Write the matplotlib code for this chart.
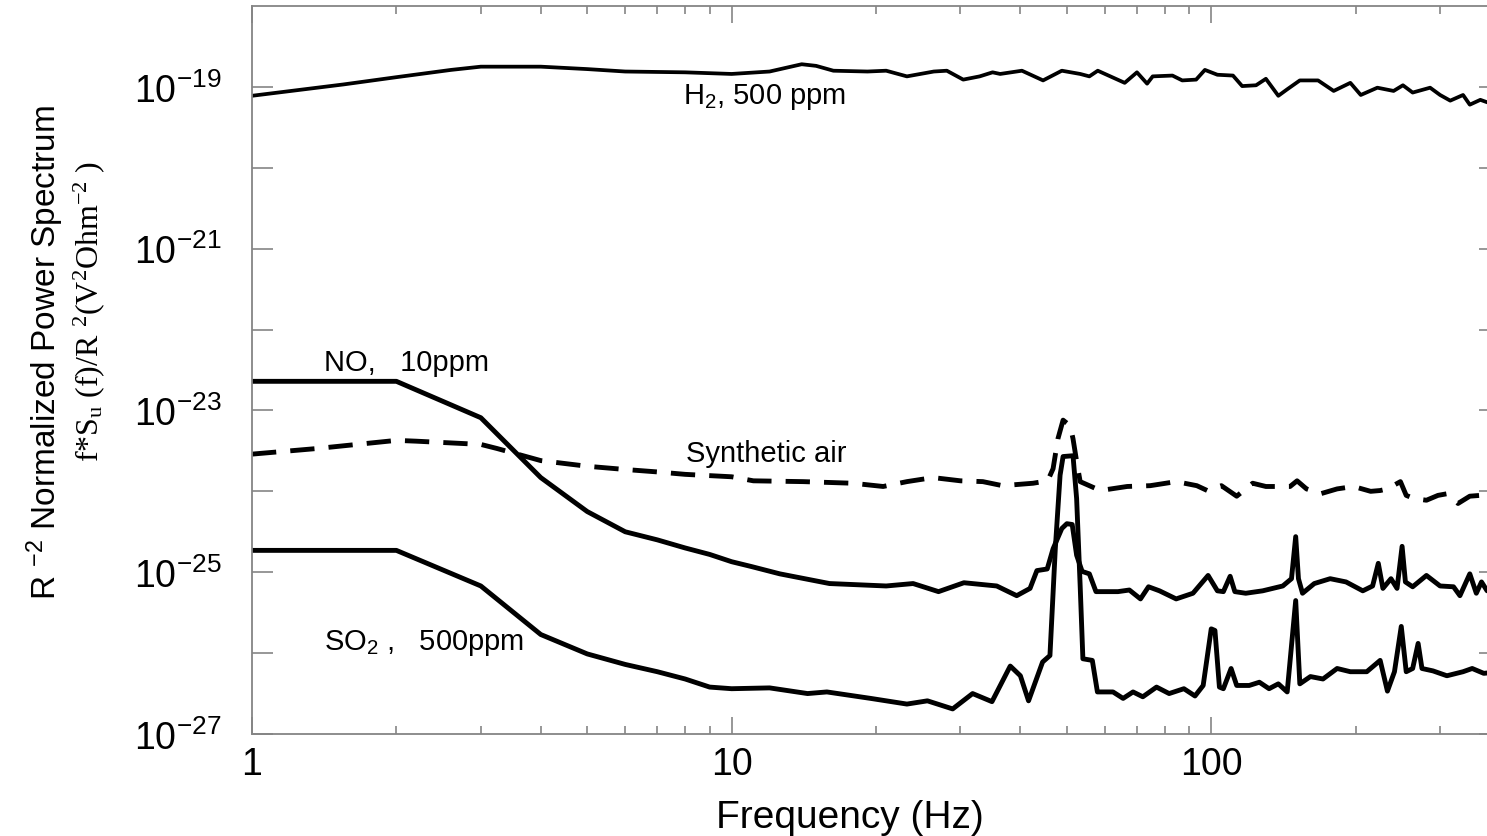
import numpy as np
from matplotlib import pyplot as plt
from matplotlib.ticker import FixedLocator, FuncFormatter, NullLocator

plt.rcParams['font.family'] = ['Liberation Sans', 'DejaVu Sans']
plt.rcParams['mathtext.default'] = 'regular'

# spectra, frequency in Hz, value as log10 of f*Su(f)/R^2
h2_freq = [1, 1.55, 2, 2.6, 3, 4, 5, 6, 8, 10, 12, 14, 15, 16.3, 19.2, 21, 23.2, 26.4, 28.1, 30.4,
           32.9, 35, 36.3, 40.3, 44.6, 48.8, 53.3, 55.7, 58, 66, 70, 73.5, 75.5, 83, 87, 93, 97, 103, 111, 116,
           124, 130, 138, 144, 153, 167, 180, 195, 205, 222, 240, 251, 263, 286, 300, 315, 335, 346, 364, 376, 400]
h2_log = [-19.11, -18.97, -18.88, -18.79, -18.75, -18.75, -18.78, -18.81, -18.82, -18.84,
          -18.81, -18.72, -18.74, -18.80, -18.81, -18.80, -18.87, -18.81, -18.80, -18.91,
          -18.87, -18.82, -18.84, -18.80, -18.92, -18.80, -18.84, -18.87, -18.80, -18.95,
          -18.82, -18.96, -18.87, -18.86, -18.92, -18.91, -18.79, -18.85, -18.86, -18.99,
          -18.98, -18.90, -19.11, -19.03, -18.92, -18.92, -19.05, -18.95, -19.10, -19.01,
          -19.05, -18.98, -19.07, -19.01, -19.10, -19.17, -19.10, -19.22, -19.16, -19.19, -19.20]

no_freq = [1, 2, 3, 4, 5, 6, 7, 8, 9, 10, 11, 12.6, 16, 21, 23.9, 27, 30.5, 35.7, 39.3, 41.9,
           43.3, 45.5, 46.8, 48.8, 50, 51.3, 52.4, 53.8, 55.7, 57.5, 63.9, 67.5, 71.2, 74, 78, 84.5, 91.6, 98.5, 103, 106,
           109.5, 112, 118, 128, 141, 147, 150, 152, 155, 164, 177, 191, 207, 217, 223, 228, 237, 244, 250, 254,
           263, 281, 300, 320, 330, 346, 357, 366, 376, 400]
no_log = [-22.64, -22.64, -23.09, -23.83, -24.25, -24.50, -24.60, -24.70, -24.78, -24.87,
          -24.93, -25.02, -25.14, -25.17, -25.14, -25.24, -25.13, -25.17, -25.29, -25.20,
          -24.98, -24.96, -24.71, -24.46, -24.40, -24.41, -24.79, -24.99, -25.02, -25.24,
          -25.24, -25.22, -25.33, -25.18, -25.23, -25.33, -25.26, -25.04, -25.23, -25.24,
          -25.05, -25.24, -25.26, -25.23, -25.17, -25.08, -24.56, -25.08, -25.26, -25.14,
          -25.08, -25.12, -25.23, -25.17, -24.89, -25.20, -25.08, -25.20, -24.68, -25.12,
          -25.18, -25.04, -25.17, -25.18, -25.29, -25.02, -25.26, -25.12, -25.23, -25.20]

so2_freq = [1, 2, 3, 4, 5, 6, 7, 8, 9, 10, 12, 14.4, 15.8, 19.5, 23.2, 25.6, 28.9, 31.8, 34.9, 38.1,
            40, 41.6, 44.5, 46.1, 47.3, 48.4, 49.1, 51.5, 52.4, 53.3, 54, 56.5, 57.9, 62.4, 65.5, 68.7, 72, 76.9, 81.7, 87.7,
            92.5, 96.2, 100, 101.8, 104, 106, 110, 113, 120, 126, 132, 138, 144, 150, 153, 161, 171, 183, 195, 211, 225,
            233, 241, 249, 255, 263, 270, 275, 290, 310, 335, 350, 370, 400]
so2_log = [-24.73, -24.73, -25.17, -25.77, -26.01, -26.14, -26.23, -26.32, -26.42, -26.44,
           -26.43, -26.50, -26.48, -26.56, -26.63, -26.59, -26.69, -26.50, -26.60, -26.16,
           -26.28, -26.59, -26.11, -26.03, -24.71, -23.80, -23.57, -23.56, -24.09, -25.17,
           -26.07, -26.09, -26.48, -26.48, -26.56, -26.48, -26.54, -26.42, -26.50, -26.44,
           -26.53, -26.40, -25.70, -25.72, -26.42, -26.44, -26.19, -26.40, -26.40, -26.36, -26.44,
           -26.38, -26.48, -25.35, -26.38, -26.29, -26.32, -26.19, -26.23, -26.23, -26.09,
           -26.47, -26.23, -25.67, -26.23, -26.19, -25.88, -26.19, -26.22, -26.28, -26.23,
           -26.19, -26.25, -26.23]

air_freq = [1, 1.37, 2, 2.2, 3, 3.24, 4, 5, 6, 7, 8, 10, 11.1, 14.1, 17.9, 20.7, 23.2, 26.3, 30, 33.4,
            36.7, 42.5, 45.6, 46.8, 47.9, 49.1, 50.8, 51.5, 52.4, 53.3, 58.7, 66.8, 74.6, 84.5, 93.3, 98.1, 105, 113, 122, 130,
            146, 151, 158, 169, 183, 198, 215, 225, 233, 248, 255, 265, 281, 297, 310, 327, 346, 364, 376, 400]
air_log = [-23.54, -23.47, -23.37, -23.38, -23.42, -23.47, -23.62, -23.69, -23.73, -23.76,
           -23.79, -23.82, -23.87, -23.88, -23.90, -23.94, -23.88, -23.83, -23.87, -23.88,
           -23.93, -23.90, -23.87, -23.72, -23.35, -23.12, -23.19, -23.35, -23.63, -23.88,
           -23.99, -23.94, -23.93, -23.88, -23.93, -23.99, -23.93, -24.06, -23.90, -23.94,
           -23.94, -23.87, -23.97, -24.03, -23.97, -23.94, -24.00, -23.99, -23.97, -23.88,
           -24.05, -24.09, -24.11, -24.05, -24.03, -24.15, -24.06, -24.05, -24.05, -24.05]

y_decades = list(range(-27, -18))

fig = plt.figure(figsize=(14.87, 8.37), dpi=100)
# the frame runs a little past the right edge of the canvas
ax = fig.add_axes([252 / 1487, 102 / 837, 1248 / 1487, 728 / 837])

line_kw = dict(color='black', solid_joinstyle='round', dash_joinstyle='round')
ax.plot(h2_freq, 10.0 ** np.array(h2_log), lw=2.7, **line_kw)
ax.plot(no_freq, 10.0 ** np.array(no_log), lw=3.5, **line_kw)
ax.plot(so2_freq, 10.0 ** np.array(so2_log), lw=3.5, **line_kw)
ax.plot(air_freq, 10.0 ** np.array(air_log), lw=3.5, dashes=(5.0, 2.9), **line_kw)

ax.set_xscale('log')
ax.set_yscale('log')
ax.set_xlim(1, 400)
ax.set_ylim(1e-27, 1e-18)

ax.xaxis.set_major_formatter(FuncFormatter(lambda v, p: '%d' % round(v)))
ax.yaxis.set_major_locator(FixedLocator([10.0 ** e for e in y_decades]))
ax.yaxis.set_minor_locator(NullLocator())


def odd_power(v, pos):
    e = int(round(np.log10(v)))
    return r'$10^{%d}$' % e if e % 2 else ''


ax.yaxis.set_major_formatter(FuncFormatter(odd_power))

grey = '#858585'
for s in ax.spines.values():
    s.set_color(grey)
    s.set_linewidth(1.3)
ax.tick_params(which='both', direction='in', top=True, right=True, color=grey, width=1.2, labelsize=27)
ax.tick_params(axis='x', which='major', length=12, pad=9)
ax.tick_params(axis='x', which='minor', length=6)
ax.tick_params(axis='y', which='major', length=15, pad=22)

# curve labels
ax.text(7.9, 10 ** -19.2, r'H$_2$, 500 ppm', fontsize=21, ha='left', va='baseline')
ax.text(1.41, 10 ** -22.5, 'NO,   10ppm', fontsize=21, ha='left', va='baseline')
ax.text(8.03, 10 ** -23.62, 'Synthetic air', fontsize=21, ha='left', va='baseline')
ax.text(1.41, 10 ** -25.95, r'SO$_2$ ,   500ppm', fontsize=21, ha='left', va='baseline')

fig.text(850 / 1487, 1 - 818 / 837, 'Frequency (Hz)', fontsize=28, ha='center', va='center')
fig.text(45 / 1487, 1 - 352 / 837, r'R $^{-2}$ Normalized Power Spectrum', fontsize=24,
         rotation=90, ha='center', va='center')
fig.text(89 / 1487, 1 - 311 / 837, r'f*S$_{u}$ (f)/R $^{2}$(V$^{2}$Ohm$^{-2}$ )', fontsize=23,
         family=['Liberation Serif', 'DejaVu Serif'], rotation=90, ha='center', va='center')

plt.savefig('out.png', dpi=100)
